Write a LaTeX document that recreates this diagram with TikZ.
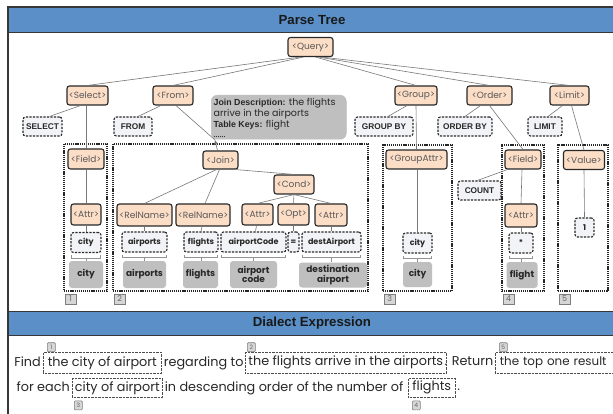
\documentclass[tikz,border=0pt]{standalone}
\usepackage{fontspec}
\setmainfont{Poppins}
\newfontfamily\kwfont{Liberation Sans}
\usetikzlibrary{calc,arrows.meta}

\definecolor{hdrblue}{RGB}{90,143,199}
\definecolor{peach}{RGB}{252,221,198}
\definecolor{leaffill}{RGB}{242,243,246}
\definecolor{greybox}{RGB}{191,191,191}
\definecolor{tagfill}{RGB}{214,214,214}
\definecolor{tagline}{RGB}{125,125,125}
\definecolor{edge}{RGB}{120,120,120}
\definecolor{ink}{RGB}{40,40,40}
\definecolor{framecol}{RGB}{55,55,55}

\tikzset{
  tn/.style={draw=ink, line width=1.1pt, fill=peach, rounded corners=2.5pt,
    minimum height=19pt, inner sep=0pt, font=\fontsize{9}{10}\selectfont, text=black!65},
  kw/.style={draw=ink, dash pattern=on 2.2pt off 1.3pt, line width=1.1pt, fill=leaffill,
    rounded corners=2.5pt, minimum height=19pt, inner sep=0pt,
    font=\kwfont\bfseries\fontsize{8.3}{9}\selectfont, text=ink},
  lf/.style={kw, minimum height=20pt, font=\bfseries\fontsize{8}{9}\selectfont},
  gy/.style={fill=greybox, rounded corners=3pt, inner sep=0pt, align=center,
    font=\bfseries\fontsize{9}{9.6}\selectfont, text=ink},
  region/.style={draw=black!85, line width=1.2pt, dash pattern=on 1.2pt off 0.9pt, inner sep=0pt},
  tag/.style={draw=tagline, fill=tagfill, line width=0.6pt, inner sep=0pt,
    minimum width=11pt, minimum height=10pt, font=\fontsize{8}{8}\selectfont, text=black!60},
  stag/.style={tag, rounded corners=1pt, minimum width=8pt, minimum height=9pt,
    font=\fontsize{6}{6}\selectfont},
  link/.style={draw=edge, line width=0.6pt},
  bracket/.style={draw=edge!80, line width=0.8pt},
  phr/.style={draw=black!70, line width=0.6pt, dash pattern=on 0.6pt off 0.8pt, inner sep=0pt},
  txt/.style={inner sep=0pt, font=\fontsize{12.8}{14}\selectfont, text=ink},
  hdr/.style={font=\kwfont\bfseries\fontsize{13.2}{14}\selectfont, text=black!90},
}

\begin{document}
\begin{tikzpicture}[x=1pt,y=-1pt]
\useasboundingbox (0,0) rectangle (613,414);
\fill[white] (0,0) rectangle (613,414);

% frame and section headers
\fill[hdrblue] (8,7) rectangle (614,33);
\fill[hdrblue] (8,311) rectangle (614,335);
\draw[framecol, line width=1.2pt] (8,415) -- (8,7) -- (614,7);
\draw[framecol, line width=1pt] (8,33) -- (614,33);
\draw[framecol, line width=1pt] (8,311) -- (614,311);
\draw[framecol, line width=1pt] (8,335) -- (614,335);
\node[hdr] (h1) at (312,20.5) {Parse Tree};
\node[hdr] (h2) at (312,323) {Dialect Expression};

% top level of the tree
\node[tn, minimum width=45] (q) at (310.5,47) {<Query>};
\node[tn, minimum width=41] (sel) at (87.5,95.5) {<Select>};
\node[tn, minimum width=40] (frm) at (173,95.5) {<From>};
\node[tn, minimum width=42] (grp) at (416,95.5) {<Group>};
\node[tn, minimum width=45] (ord) at (489.5,95.5) {<Order>};
\node[tn, minimum width=39] (lim) at (569.5,95.5) {<Limit>};

% keywords
\node[kw, minimum width=39] (kSel) at (42.5,126.5) {SELECT};
\node[kw, minimum width=38] (kFrm) at (133,126.5) {FROM};
\node[kw, minimum width=58] (kGrp) at (384,126.5) {GROUP BY};
\node[kw, minimum width=54] (kOrd) at (465,126.5) {ORDER BY};
\node[kw, minimum width=34] (kLim) at (545,126.5) {LIMIT};
\node[kw, minimum width=43] (kCnt) at (479.5,190.5) {COUNT};

% clause regions
\node[region, minimum width=43, minimum height=147] (r1) at (85.5,217.5) {};
\node[region, minimum width=255, minimum height=147] (r2) at (240.5,217.5) {};
\node[region, minimum width=69, minimum height=146] (r3) at (417.5,218) {};
\node[region, minimum width=42, minimum height=146] (r4) at (523,218) {};
\node[region, minimum width=50, minimum height=146] (r5) at (583,218) {};
\foreach \r/\n in {r1/1,r2/2,r3/3,r4/4,r5/5}
  \node[tag, anchor=north west] (t\n) at ($(\r.south west)+(1.5,2)$) {\n};

% select branch
\node[tn, minimum width=36, minimum height=20] (fld1) at (86,159) {<Field>};
\node[tn, minimum width=30, minimum height=21] (att1) at (86,214.5) {<Attr>};
\node[lf, minimum width=30] (lCity1) at (86,242.5) {city};
\node[gy, minimum width=34, minimum height=27] (gCity1) at (86,274.5) {city};

% from branch
\node[tn, minimum width=35, minimum height=18] (join) at (220.5,160) {<Join>};
\node[tn, minimum width=40] (cond) at (294,184.5) {<Cond>};
\node[tn, minimum width=55, minimum height=22] (rel1) at (144.5,215) {<RelName>};
\node[tn, minimum width=54, minimum height=22] (rel2) at (203,215) {<RelName>};
\node[tn, minimum width=31, minimum height=21] (att2) at (257.5,214.5) {<Attr>};
\node[tn, minimum width=31, minimum height=21] (opt) at (293.5,214.5) {<Opt>};
\node[tn, minimum width=32, minimum height=22] (att3) at (331,215) {<Attr>};

\node[lf, minimum width=45] (lAirp) at (144.5,242) {airports};
\node[lf, minimum width=34] (lFlig) at (201,242) {flights};
\node[lf, minimum width=65] (lCode) at (253.5,242) {airportCode};
\node[lf, minimum width=11] (lEq) at (293.5,242) {=};
\node[lf, minimum width=59] (lDest) at (331.5,242) {destAirport};

\node[gy, minimum width=43, minimum height=27] (gAirp) at (144.5,274.5) {airports};
\node[gy, minimum width=35, minimum height=27] (gFlig) at (200.5,274.5) {flights};
\node[gy, minimum width=47, minimum height=27] (gCode) at (253.5,274.5) {airport\\code};
\node[gy, minimum width=68, minimum height=25] (gDest) at (333,275) {destination\\airport};

% join description
\node[fill=greybox, draw=black!25, line width=0.5pt, rounded corners=6pt,
      minimum width=135, minimum height=44, inner sep=0pt, anchor=north west] (desc) at (211,95) {};
\node[anchor=north west, inner sep=0pt, align=left, text=ink,
      font=\fontsize{9.5}{9.6}\selectfont] (descTxt) at (213.5,98.5)
  {{\kwfont\bfseries\fontsize{8.8}{9.6}\selectfont Join Description:} the flights\\arrive in the airports\\
   {\kwfont\bfseries\fontsize{8.8}{9.6}\selectfont Table Keys:} flight\\......};
\coordinate (tip) at ($(desc.south west)+(4,0.5)$);

% group branch
\node[tn, minimum width=61] (gattr) at (416.5,159.5) {<GroupAttr>};
\node[lf, minimum width=29] (lCity3) at (417.5,243) {city};
\node[gy, minimum width=29, minimum height=25] (gCity3) at (417.5,274.5) {city};

% order branch
\node[tn, minimum width=36] (fld2) at (523,159.5) {<Field>};
\node[tn, minimum width=32, minimum height=23] (att4) at (521,215.5) {<Attr>};
\node[lf, minimum width=24] (lStar) at (521,243) {*};
\node[gy, minimum width=31, minimum height=26] (gFlight) at (522,275) {flight};

% limit branch
\node[tn, minimum width=41] (val) at (584,160) {<Value>};
\node[lf, minimum width=19, minimum height=19] (lOne) at (584.5,227.5) {1};

% tree edges
\draw[link] ($(q.south)+(-10,0)$) -- (sel.north);
\draw[link] ($(q.south)+(-7,0)$) -- (frm.north);
\draw[link] ($(q.south)+(5,0)$) -- (grp.north);
\draw[link] ($(q.south)+(8,0)$) -- (ord.north);
\draw[link] ($(q.south)+(11,0)$) -- (lim.north);

\draw[link] ($(sel.south)+(-7,0)$) -- ($(kSel.north)+(7,0)$);
\draw[link] ($(sel.south)+(-1.5,0)$) -- (fld1.north);
\draw[link] (fld1.south) -- (att1.north);
\draw[link] (att1.south) -- (lCity1.north);

\draw[link] ($(frm.south)+(-12,0)$) -- ($(kFrm.north)+(5,0)$);
\draw[link] ($(frm.south)+(3,0)$) -- (tip);
\draw[link, -{Stealth[length=5pt,width=4pt]}] ($(join.north)+(-3,0)$) -- (tip);
\draw[link] ($(join.south)+(-4,0)$) -- (rel1.north);
\draw[link] ($(join.south)+(-1,0)$) -- ($(rel2.north)+(2,0)$);
\draw[link] ($(join.south east)+(-3,0)$) -- (cond.north);
\draw[link] (cond.south) -- (att2.north);
\draw[link] (cond.south) -- (opt.north);
\draw[link] (cond.south) -- (att3.north);
\draw[link] (rel1.south) -- (lAirp.north);
\draw[link] ($(rel2.south)+(-1,0)$) -- (lFlig.north);
\draw[link] ($(att2.south)+(-1,0)$) -- ($(lCode.north)+(2,0)$);
\draw[link] (opt.south) -- (lEq.north);
\draw[link] (att3.south) -- ($(lDest.north)+(-0.5,0)$);

\draw[link] ($(grp.south)+(-9,0)$) -- ($(kGrp.north)+(4,0)$);
\draw[link] (grp.south) -- (gattr.north);
\draw[link] ($(gattr.south)+(1,0)$) -- (lCity3.north);

\draw[link] ($(ord.south)+(-9,0)$) -- (kOrd.north);
\draw[link] (ord.south) -- (fld2.north);
\draw[link] ($(fld2.south west)+(3,0)$) -- ($(kCnt.north)+(-2,0)$);
\draw[link] ($(fld2.south)+(-1,0)$) -- (att4.north);
\draw[link] (att4.south) -- (lStar.north);

\draw[link] ($(lim.south)+(-7,0)$) -- ($(kLim.north)+(3,0)$);
\draw[link] ($(lim.south)+(2,0)$) -- (val.north);
\draw[link] (val.south) -- (lOne.north);

% brackets from each token to its meaning
\foreach \a/\b in {lCity1/gCity1, lAirp/gAirp, lFlig/gFlig, lCode/gCode, lDest/gDest, lCity3/gCity3, lStar/gFlight}{
  \draw[bracket] ($(\a.south west)+(1,2)$) -- ++(0,3) -| ($(\a.south east)+(-1,2)$);
  \draw[bracket] ($(\a.south)+(0,5)$) -- (\a.south |- \b.north);
}

% dialect expression
\node[phr, txt, minimum width=118, minimum height=21, anchor=north west] (p1) at (43,352) {the city of airport};
\node[phr, txt, minimum width=201, minimum height=21, anchor=north west] (p2) at (245,352) {the flights arrive in the airports};
\node[phr, txt, font=\fontsize{11.9}{14}\selectfont, text width=128, align=left, inner xsep=4.5pt,
      minimum height=21, anchor=north west] (p5) at (495,352) {the top one result};
\node[phr, txt, minimum width=90, minimum height=19, anchor=north west] (p3) at (72,378) {city of airport};
\node[phr, txt, minimum width=47, minimum height=19, anchor=north west] (p4) at (408,378) {flights};

\node[txt, anchor=base east] (w1) at ($(p1.base west)+(-2,0)$) {Find};
\node[txt, anchor=base west] (w2) at ($(p1.base east)+(2,0)$) {regarding to};
\node[txt, anchor=base east] (w3) at ($(p5.base west)+(-1.5,0)$) {. Return};
\node[txt, anchor=base east] (w4) at ($(p3.base west)+(-2,0)$) {for each};
\node[txt, anchor=base west] (w5) at ($(p3.base east)+(2,0)$) {in descending order of the number of};
\node[txt, anchor=base west] (w6) at ($(p4.base east)+(1.5,0)$) {.};

\node[stag, anchor=south west] (s1) at ($(p1.north west)+(4,0)$) {1};
\node[stag, anchor=south west] (s2) at ($(p2.north west)+(2,0)$) {2};
\node[stag, anchor=south west] (s5) at ($(p5.north west)+(4,0)$) {5};
\node[stag, anchor=north west] (s3) at ($(p3.south west)+(2,3)$) {3};
\node[stag, anchor=north west] (s4) at ($(p4.south west)+(4,3)$) {4};
\end{tikzpicture}
\end{document}
